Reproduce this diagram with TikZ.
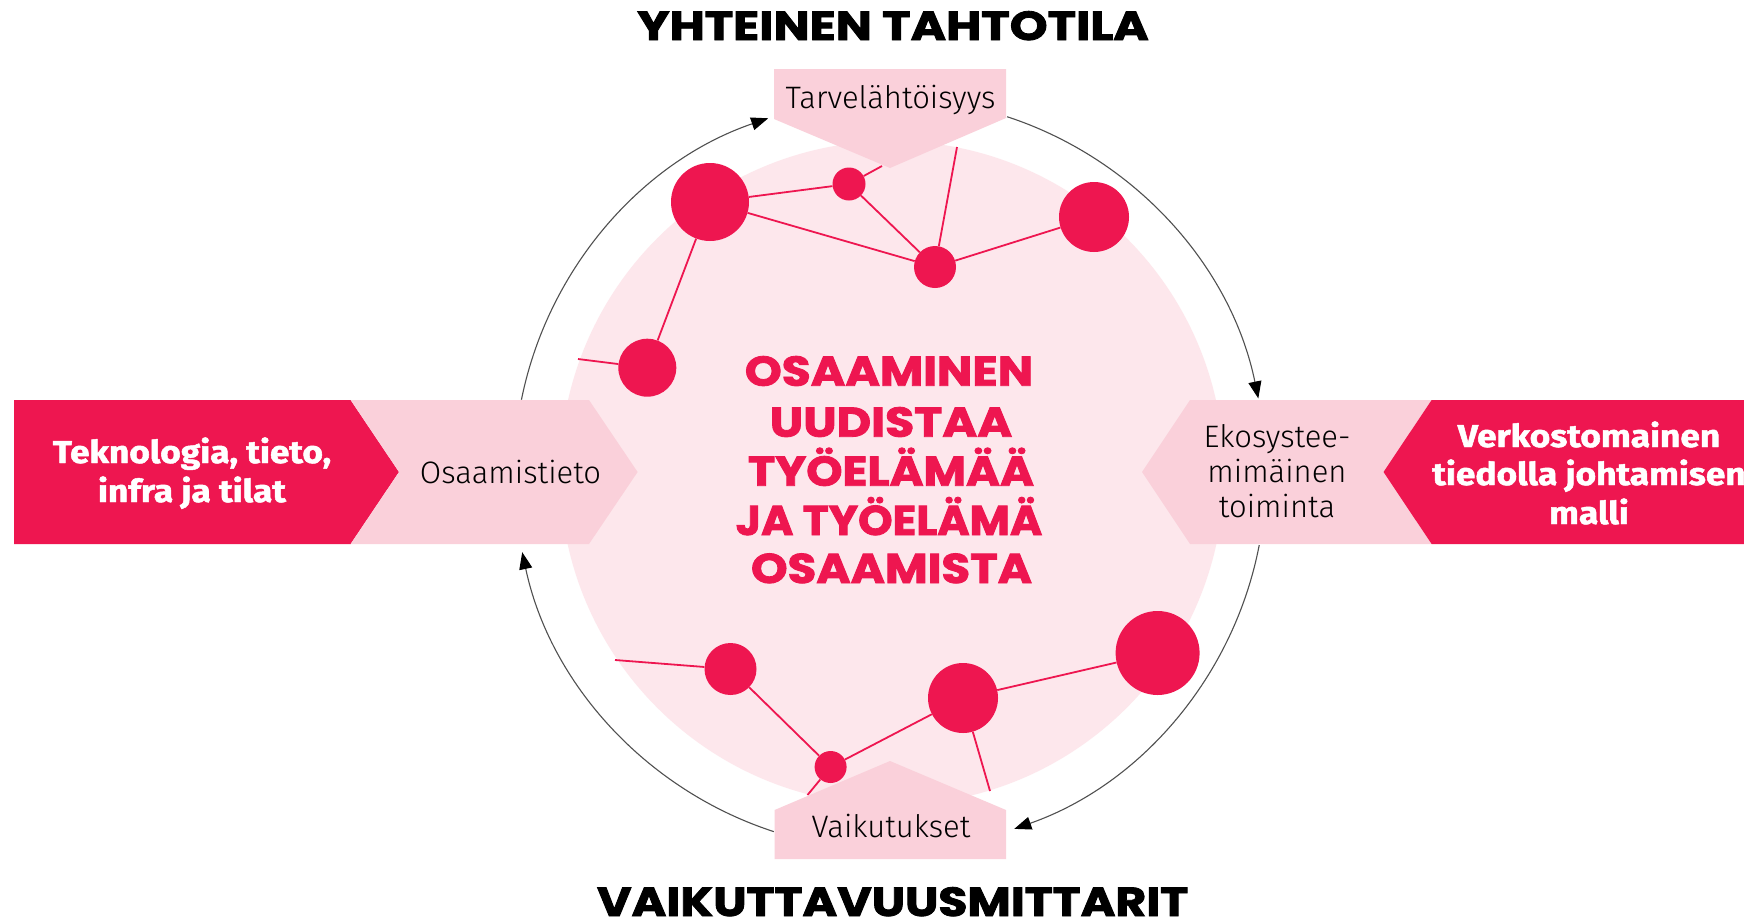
\documentclass[tikz,border=0pt]{standalone}
\usepackage{fontspec}
\usepackage{graphicx}
\usetikzlibrary{arrows.meta}
\newfontfamily\wideheavy{Poppins}[BoldFeatures={FakeBold=2}]
\newfontfamily\lightf{Fira Sans Light}
\newfontfamily\heavyf{Fira Sans}[BoldFeatures={FakeBold=1.5}]
\definecolor{crim}{HTML}{EE1650}
\definecolor{shapepink}{HTML}{FAD0DA}
\definecolor{circpink}{HTML}{FDE7EC}
\definecolor{arcgray}{HTML}{505050}
\pgfdeclarelayer{back}\pgfdeclarelayer{mid}\pgfdeclarelayer{front}
\pgfsetlayers{back,mid,main,front}
\newcommand{\sx}[2]{\scalebox{#1}[1]{#2}}
\begin{document}
\begin{tikzpicture}[x=1pt,y=-1pt,
  dot/.style={circle,fill=crim,inner sep=0pt,minimum size=#1},
  link/.style={draw=crim,line width=1.8pt},
  cyc/.style={draw=arcgray,line width=1.1pt,-{Triangle[length=17pt,width=13pt,color=black]}},
  lbl/.style={inner sep=0pt,anchor=base,text=black,font=\lightf\fontsize{31}{35}\selectfont},
  whitelbl/.style={inner sep=0pt,anchor=base,text=white,font=\heavyf\bfseries\fontsize{31.5}{38}\selectfont},
  titlelbl/.style={inner sep=0pt,anchor=base,text=black,font=\wideheavy\bfseries\fontsize{40.6}{48}\selectfont},
  centerlbl/.style={inner sep=0pt,anchor=base,text=crim,font=\wideheavy\bfseries\fontsize{41.6}{49}\selectfont}
]
\path[use as bounding box] (0,0) rectangle (1744,921);
\clip (0,0) rectangle (1744,921);
\coordinate (O) at (890,474);

\begin{pgfonlayer}{back}
  \fill[white] (0,0) rectangle (1744,921);
  \fill[circpink] (892,473) circle[radius=332];
  \draw[cyc] ([shift={(-168.6:376)}]O) arc[start angle=-168.6,end angle=-108.9,radius=376];
  \draw[cyc] ([shift={(-71.85:376)}]O) arc[start angle=-71.85,end angle=-11.6,radius=376];
  \draw[cyc] ([shift={(10.9:376)}]O) arc[start angle=10.9,end angle=70.7,radius=376];
  \draw[cyc] ([shift={(108:376)}]O) arc[start angle=108,end angle=168,radius=376];
\end{pgfonlayer}

% network nodes
\node[dot=78pt] (A) at (710,202) {};
\node[dot=33pt] (B) at (849,184) {};
\node[dot=42pt] (C) at (935,267) {};
\node[dot=70pt] (D) at (1094,217) {};
\node[dot=58pt] (E) at (647.3,367.7) {};
\node[dot=52pt] (F) at (730.5,669) {};
\node[dot=32pt] (G) at (830.6,767) {};
\node[dot=70pt] (H) at (963,698) {};
\node[dot=84pt] (I) at (1157.6,653) {};
\coordinate (bEnd) at (882,166);
\coordinate (cEnd) at (957,147);
\coordinate (eEnd) at (578,359);
\coordinate (fEnd) at (615,660);
\coordinate (gEnd) at (807.5,795);
\coordinate (hEnd) at (990,791);

\begin{pgfonlayer}{mid}
  \draw[link] (A) -- (B);
  \draw[link] (B) -- (bEnd);
  \draw[link] (B) -- (C);
  \draw[link] (A) -- (C);
  \draw[link] (C) -- (cEnd);
  \draw[link] (C) -- (D);
  \draw[link] (A) -- (E);
  \draw[link] (E) -- (eEnd);
  \draw[link] (fEnd) -- (F);
  \draw[link] (F) -- (G);
  \draw[link] (G) -- (H);
  \draw[link] (G) -- (gEnd);
  \draw[link] (H) -- (I);
  \draw[link] (H) -- (hEnd);
\end{pgfonlayer}

\begin{pgfonlayer}{front}
  % top and bottom pentagons
  \fill[shapepink] (774,69) -- (1006,69) -- (1006,118) -- (890,168) -- (774,119) -- cycle;
  \fill[shapepink] (774.6,810) -- (890,761) -- (1006,810) -- (1006,859) -- (774.6,859) -- cycle;
  % left band
  \fill[crim] (14,400) -- (350.6,400) -- (399,472) -- (350.6,544) -- (14,544) -- cycle;
  \fill[shapepink] (350.6,400) -- (589,400) -- (637.6,472) -- (589,544) -- (350.6,544) -- (399,472) -- cycle;
  % right band
  \fill[shapepink] (1190,400) -- (1431.6,400) -- (1383.5,472) -- (1431.6,544) -- (1190,544) -- (1142,472) -- cycle;
  \fill[crim] (1431.6,400) -- (1760,400) -- (1760,544) -- (1431.6,544) -- (1383.5,472) -- cycle;

  % titles
  \node[titlelbl] (ttop) at (893,40) {\sx{1.186}{YHTEINEN TAHTOTILA}};
  \node[titlelbl] (tbot) at (892.6,916) {\sx{1.164}{VAIKUTTAVUUSMITTARIT}};

  % centre text
  \node[centerlbl] (c1) at (889,385.7) {\sx{1.13}{OSAAMINEN}};
  \node[centerlbl] (c2) at (891,436.7) {\sx{1.14}{UUDISTAA}};
  \node[centerlbl] (c3) at (891,485.7) {\sx{1.11}{TYÖELÄMÄÄ}};
  \node[centerlbl] (c4) at (889,535) {\sx{1.055}{JA TYÖELÄMÄ}};
  \node[centerlbl] (c5) at (891.5,583) {\sx{1.12}{OSAAMISTA}};

  % light labels
  \node[lbl] (l1) at (890.5,108) {Tarvelähtöisyys};
  \node[lbl] (l2) at (510.5,483) {Osaamistieto};
  \node[lbl] (l3) at (891,837.7) {Vaikutukset};
  \node[lbl] (l4a) at (1277,447) {Ekosystee-};
  \node[lbl] (l4b) at (1277,482) {mimäinen};
  \node[lbl] (l4c) at (1277,517) {toiminta};

  % white labels
  \node[whitelbl] (w1a) at (192,463) {\sx{1.12}{Teknologia, tieto,}};
  \node[whitelbl] (w1b) at (192,502) {\sx{1.12}{infra ja tilat}};
  \node[whitelbl] (w2a) at (1589,447) {\sx{1.12}{Verkostomainen}};
  \node[whitelbl] (w2b) at (1589,485) {\sx{1.12}{tiedolla johtamisen}};
  \node[whitelbl] (w2c) at (1589,524) {\sx{1.12}{malli}};
\end{pgfonlayer}
\end{tikzpicture}
\end{document}
